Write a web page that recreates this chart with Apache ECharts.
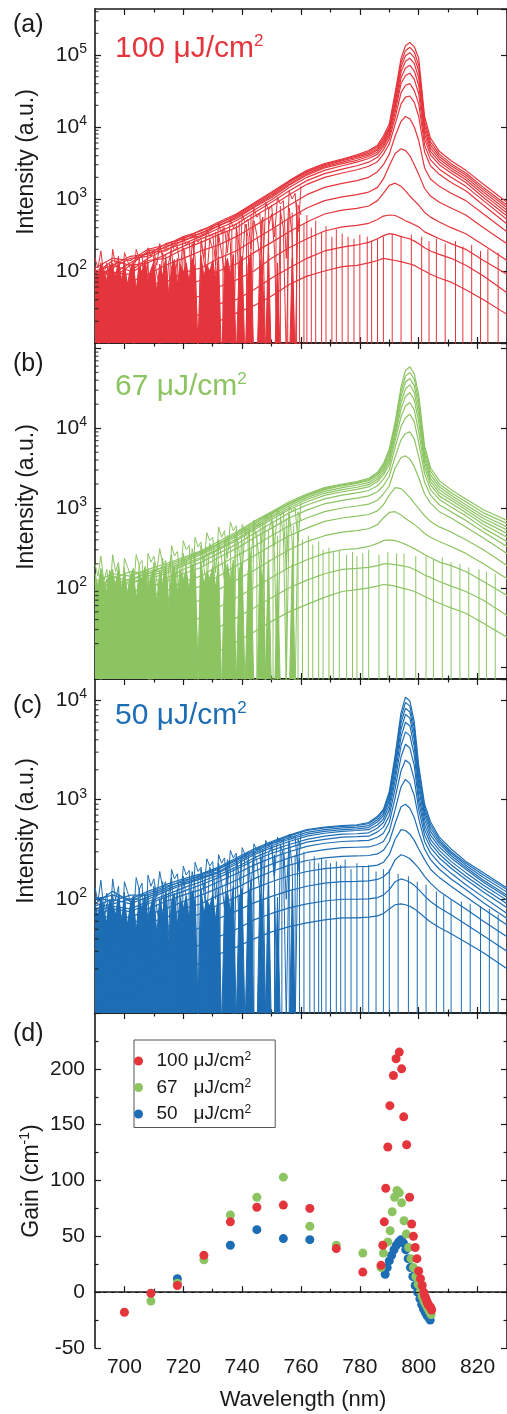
<!DOCTYPE html>
<html>
<head>
<meta charset="utf-8">
<title>ASE spectra and gain</title>
<script src="https://cdn.jsdelivr.net/npm/echarts@6/dist/echarts.min.js"></script>
<style>
html, body { margin: 0; padding: 0; background: #fff; overflow: hidden; }
#main { width: 507px; height: 1414px; }
</style>
</head>
<body>
<div id="main"></div>
<script>
// wavelength grid of the smooth spectra (nm)
const WL = [690, 696, 702, 708, 714, 720, 726, 732, 738, 744, 750, 756, 762, 768, 774, 779, 783, 786, 788, 790, 792, 794, 795.5, 797, 798.5, 800, 802, 804, 807, 811, 816, 822, 830];
// wavelength grid of the noisy short-wavelength part
const NOISE_WL = [690, 691, 692, 693, 694, 695, 696, 697, 698, 699,
  700, 701, 702, 703, 704, 705, 706, 707, 708, 709,
  710, 711, 712, 713, 714, 715, 716, 717, 718, 719,
  720, 721, 722, 723, 724, 725, 726, 727, 728, 729,
  730, 731, 732, 733, 734, 735, 736, 737, 738, 739,
  740, 741, 742, 743, 744, 745, 746, 747, 748, 749,
  750, 751, 752, 753, 754, 755, 756, 757, 758, 759, 760];
// counts below this level are the detector floor (off the bottom of the log axes)
const FLOOR = 1;

// (a) 100 uJ/cm2 spectra, one row per excitation step
const SPEC_100 = [
  [110, 150, 140, 200, 230, 300, 360, 480, 620, 880, 1250, 1800, 2500, 3100, 3600, 4100, 4700, 5600, 7500, 11000, 30000, 90000, 135000, 150000, 130000, 90000, 14000, 7000, 4600, 3400, 2500, 1600, 900],
  [100, 120, 160, 170, 240, 280, 370, 450, 600, 850, 1200, 1750, 2400, 3000, 3500, 3950, 4500, 5300, 7000, 10000, 26000, 78000, 115000, 128000, 110000, 72000, 12000, 6200, 4200, 3100, 2300, 1450, 820],
  [90, 140, 120, 190, 210, 290, 330, 460, 580, 820, 1150, 1700, 2350, 2900, 3400, 3800, 4300, 5000, 6500, 9500, 23000, 68000, 98000, 108000, 92000, 60000, 10500, 5600, 3900, 2900, 2150, 1350, 760],
  [80, 110, 150, 160, 220, 260, 340, 420, 560, 780, 1100, 1600, 2250, 2800, 3250, 3650, 4100, 4800, 6100, 9000, 21000, 58000, 82000, 90000, 76000, 48000, 9200, 5100, 3600, 2700, 2000, 1250, 700],
  [95, 90, 130, 180, 190, 270, 310, 430, 530, 760, 1050, 1550, 2150, 2700, 3100, 3450, 3900, 4500, 5700, 8300, 18500, 48000, 66000, 72000, 60000, 38000, 8000, 4600, 3300, 2500, 1850, 1150, 640],
  [70, 120, 100, 150, 200, 240, 300, 390, 500, 700, 980, 1450, 2000, 2500, 2900, 3250, 3650, 4200, 5300, 7600, 16000, 40000, 52000, 56000, 46000, 29000, 6800, 4100, 3000, 2300, 1700, 1050, 580],
  [60, 80, 120, 130, 170, 220, 280, 350, 450, 640, 900, 1300, 1800, 2250, 2600, 2900, 3250, 3800, 4800, 6800, 13500, 30000, 38000, 40000, 32000, 21000, 5600, 3500, 2600, 2000, 1500, 950, 520],
  [55, 95, 90, 140, 150, 200, 250, 320, 400, 570, 800, 1150, 1600, 2000, 2300, 2550, 2850, 3300, 4200, 5800, 11000, 21000, 26000, 27000, 22000, 14000, 4500, 2900, 2200, 1700, 1300, 820, 450],
  [40, 60, 70, 90, 120, 150, 190, 230, 300, 420, 580, 820, 1150, 1450, 1650, 1800, 2000, 2400, 3000, 4200, 7500, 12000, 14000, 13000, 10000, 6500, 2700, 1900, 1500, 1200, 950, 620, 350],
  [25, 45, 40, 65, 70, 95, 110, 150, 190, 270, 380, 540, 750, 950, 1070, 1150, 1250, 1450, 1900, 2900, 4300, 5000, 4700, 4000, 3000, 2200, 1400, 1100, 900, 750, 600, 400, 240],
  [15, 30, 25, 40, 50, 60, 75, 100, 125, 180, 250, 350, 480, 620, 700, 740, 800, 950, 1200, 1550, 1660, 1500, 1300, 1100, 950, 820, 650, 560, 480, 400, 330, 230, 140],
  [8, 20, 15, 25, 30, 40, 45, 60, 75, 100, 150, 210, 280, 360, 410, 430, 460, 520, 580, 600, 590, 540, 500, 470, 440, 410, 350, 320, 280, 240, 200, 140, 90],
  [5, 12, 9, 14, 18, 22, 25, 35, 40, 55, 80, 110, 150, 190, 215, 230, 250, 280, 310, 330, 320, 300, 290, 280, 260, 240, 210, 190, 170, 150, 120, 85, 50],
  [3, 6, 4, 8, 11, 14, 16, 20, 26, 33, 45, 65, 85, 100, 115, 120, 130, 140, 150, 145, 140, 135, 130, 125, 120, 110, 100, 90, 80, 70, 55, 40, 25]
];
const NOISE_100_HI = [150, 110, 190, 90, 130, 60, 200, 120, 160, 40,
  180, 140, 110, 70, 200, 150, 170, 30, 210, 160,
  190, 120, 240, 150, 170, 45, 260, 190, 220, 100,
  300, 230, 260, 60, 330, 250, 290, 150, 380, 300,
  330, 120, 450, 330, 400, 180, 520, 400, 460, 60,
  600, 480, 520, 200, 750, 560, 640, 90, 900, 700,
  820, 300, 1050, 850, 950, 150, 1300, 1000, 1200, 350, 1500];
const NOISE_100_MID = [90, 40, 120, 70, 100, 30, 130, 60, 110, 25,
  140, 50, 95, 120, 35, 150, 80, 60, 130, 20,
  160, 90, 60, 180, 30, 130, 200, 70, 150, 8,
  210, 120, 60, 240, 160, 8, 260, 140, 80, 280,
  200, 5, 320, 180, 90, 360, 250, 6, 400, 220,
  120, 450, 300, 5, 500, 320, 150, 560, 6, 420,
  620, 200, 5, 680, 400, 6, 750, 300, 5, 820, 600];
const NOISE_100_FLOOR = [110, 80, 130, 95, 70, 125, 105, 85, 140, 75,
  120, 65, 105, 130, 55, 115, 95, 140, 75, 105,
  135, 50, 125, 85, 150, 40, 115, 145, 65, 125,
  95, 130, 70, 150, 110, 6, 165, 85, 120, 100,
  140, 75, 160, 5, 110, 150, 90, 170, 6, 130,
  160, 5, 120, 180, 5, 4, 150, 90, 5, 170,
  4, 4, 130, 5, 4, 4, 4, 150, 4, 4, 4];
const DROPS_100_WL = [720.5, 723.5, 727.5, 731, 733.5, 736.5, 739, 741.5, 743, 746.5,
  749, 751.5, 753, 755.5, 757, 758.5, 759.5, 761, 762, 763.5,
  765, 767, 768.5, 770.5, 772, 774, 776, 778, 780, 782.5,
  784, 786, 788, 791, 794, 797.5, 801, 803.5, 806, 809,
  812.5, 815, 818, 821, 823.5, 827];
const DROPS_100_TOP = [200, 260, 300, 350, 420, 380, 500, 450, 600, 520,
  700, 400, 800, 500, 650, 900, 550, 450, 600, 400,
  500, 350, 420, 300, 380, 330, 300, 280, 320, 300,
  260, 280, 300, 330, 310, 320, 300, 260, 280, 240,
  260, 220, 230, 190, 200, 180];

// (b) 67 uJ/cm2
const SPEC_67 = [
  [120, 150, 140, 170, 200, 240, 290, 380, 500, 680, 900, 1200, 1500, 1800, 2000, 2150, 2350, 2800, 3600, 5500, 12000, 33000, 53000, 59000, 48000, 26000, 6000, 3200, 2200, 1700, 1300, 950, 700],
  [100, 130, 160, 150, 190, 230, 280, 360, 480, 650, 870, 1150, 1450, 1750, 1950, 2100, 2280, 2700, 3400, 5100, 11000, 29000, 45000, 50000, 41000, 22000, 5300, 2900, 2000, 1550, 1200, 870, 640],
  [90, 140, 120, 160, 180, 220, 270, 350, 460, 620, 840, 1120, 1420, 1700, 1900, 2040, 2200, 2600, 3200, 4700, 10000, 25000, 38000, 42000, 34000, 18500, 4700, 2600, 1850, 1450, 1100, 800, 580],
  [110, 110, 130, 150, 170, 210, 260, 330, 440, 590, 800, 1070, 1350, 1620, 1800, 1930, 2080, 2450, 3000, 4300, 9000, 21000, 31000, 35000, 28000, 15000, 4200, 2350, 1700, 1350, 1020, 740, 530],
  [80, 120, 110, 140, 160, 200, 240, 310, 410, 560, 760, 1010, 1280, 1530, 1700, 1820, 1960, 2300, 2800, 3900, 8000, 17500, 25000, 28000, 22500, 12000, 3700, 2150, 1550, 1250, 950, 680, 480],
  [70, 100, 120, 130, 150, 190, 230, 300, 390, 530, 720, 960, 1200, 1440, 1600, 1710, 1840, 2150, 2600, 3500, 7000, 14000, 19000, 21000, 17000, 9000, 3200, 1950, 1420, 1150, 880, 620, 430],
  [60, 90, 80, 120, 130, 170, 210, 270, 350, 480, 650, 870, 1090, 1300, 1450, 1550, 1660, 1900, 2300, 3000, 5800, 10500, 13500, 15000, 12000, 6600, 2700, 1700, 1280, 1030, 800, 560, 380],
  [50, 70, 90, 100, 120, 150, 180, 240, 310, 420, 560, 750, 940, 1130, 1250, 1330, 1420, 1600, 1900, 2500, 4400, 7200, 8600, 9000, 7300, 4400, 2100, 1450, 1100, 900, 700, 500, 330],
  [40, 55, 50, 80, 90, 120, 140, 190, 250, 330, 450, 600, 750, 900, 1000, 1060, 1120, 1250, 1500, 1900, 3200, 4300, 4500, 4100, 3300, 2400, 1500, 1150, 900, 750, 580, 420, 270],
  [30, 40, 45, 60, 70, 90, 105, 140, 190, 250, 340, 450, 560, 680, 750, 790, 830, 920, 1100, 1450, 1800, 1750, 1550, 1350, 1150, 980, 800, 680, 580, 500, 400, 300, 190],
  [20, 30, 25, 40, 45, 60, 70, 95, 125, 165, 225, 300, 380, 450, 500, 520, 550, 620, 750, 880, 900, 820, 740, 680, 620, 560, 480, 430, 380, 330, 270, 200, 130],
  [10, 20, 15, 25, 28, 36, 42, 57, 75, 100, 135, 180, 225, 270, 300, 310, 330, 360, 390, 400, 390, 370, 350, 330, 310, 290, 260, 240, 210, 190, 160, 120, 80],
  [6, 10, 8, 14, 16, 20, 24, 32, 42, 56, 75, 100, 125, 150, 170, 175, 180, 190, 200, 200, 195, 190, 185, 180, 170, 160, 145, 135, 120, 105, 90, 70, 45],
  [3, 5, 4, 7, 8, 10, 12, 16, 21, 28, 38, 50, 62, 76, 90, 95, 100, 105, 110, 108, 105, 100, 97, 94, 90, 85, 78, 72, 64, 56, 48, 36, 24]
];
const NOISE_67_HI = [200, 140, 250, 120, 170, 80, 260, 160, 210, 55,
  235, 185, 145, 90, 260, 195, 220, 40, 270, 210,
  250, 160, 310, 195, 220, 60, 340, 250, 285, 130,
  390, 300, 340, 80, 430, 325, 375, 195, 490, 390,
  430, 155, 580, 430, 520, 235, 670, 520, 600, 80,
  620, 500, 560, 210, 700, 580, 650, 100, 820, 700,
  850, 330, 950, 800, 900, 170, 1050, 900, 1000, 380, 1150];
const NOISE_67_MID = [120, 50, 160, 90, 130, 40, 170, 80, 140, 30,
  180, 65, 125, 160, 45, 195, 105, 80, 170, 25,
  210, 120, 80, 235, 40, 170, 260, 90, 195, 9,
  270, 155, 80, 310, 210, 9, 340, 180, 105, 360,
  260, 5, 400, 235, 120, 450, 320, 6, 500, 285,
  155, 560, 390, 5, 600, 400, 195, 650, 6, 520,
  700, 260, 5, 780, 500, 6, 850, 390, 5, 900, 700];
const NOISE_67_FLOOR = [150, 105, 175, 120, 90, 165, 140, 110, 185, 95,
  160, 85, 140, 175, 70, 150, 125, 185, 95, 140,
  180, 65, 165, 110, 200, 50, 150, 190, 85, 165,
  125, 170, 90, 200, 145, 6, 215, 110, 160, 130,
  185, 100, 210, 5, 145, 200, 120, 225, 6, 170,
  210, 5, 160, 240, 5, 4, 200, 120, 5, 225,
  4, 4, 170, 5, 4, 4, 4, 200, 4, 4, 4];
const DROPS_67_WL = [721, 724, 728, 730.5, 734, 737.5, 740, 742.5, 745, 747.5,
  750.5, 752, 755, 757.5, 759, 760.5, 762.5, 764, 766, 767.5,
  769.5, 771, 773, 775.5, 777.5, 779, 781, 783, 786.5, 789.5,
  792.5, 795, 799, 802.5, 805, 808, 811, 814, 817, 820.5,
  823, 826];
const DROPS_67_TOP = [230, 280, 320, 300, 400, 450, 380, 550, 500, 600,
  650, 450, 750, 600, 500, 400, 450, 350, 380, 300,
  320, 280, 300, 260, 280, 250, 270, 300, 260, 280,
  270, 270, 250, 250, 230, 240, 210, 200, 180, 170,
  160, 150];

// (c) 50 uJ/cm2
const SPEC_50 = [
  [100, 110, 100, 120, 140, 160, 180, 210, 260, 320, 380, 440, 500, 530, 550, 560, 590, 680, 800, 1200, 2800, 7500, 10700, 9800, 6000, 2200, 900, 600, 420, 320, 240, 185, 130],
  [90, 120, 95, 115, 135, 150, 175, 205, 250, 310, 370, 430, 490, 520, 540, 550, 575, 660, 770, 1120, 2550, 6700, 9500, 8700, 5300, 1950, 830, 560, 400, 300, 230, 175, 125],
  [105, 95, 110, 110, 130, 155, 170, 200, 245, 300, 360, 415, 470, 500, 520, 530, 550, 630, 730, 1050, 2300, 5900, 8300, 7600, 4600, 1700, 760, 520, 380, 290, 220, 165, 118],
  [85, 100, 90, 105, 125, 145, 165, 190, 235, 290, 345, 400, 450, 480, 500, 510, 525, 600, 690, 970, 2050, 5100, 7200, 6600, 4000, 1500, 700, 480, 360, 275, 210, 155, 110],
  [80, 90, 100, 100, 120, 140, 160, 185, 225, 280, 330, 380, 430, 460, 480, 490, 500, 560, 640, 880, 1800, 4300, 6000, 5500, 3400, 1300, 630, 440, 335, 260, 200, 148, 105],
  [75, 85, 80, 95, 110, 130, 150, 175, 210, 260, 310, 355, 400, 430, 450, 455, 465, 520, 590, 790, 1550, 3500, 4800, 4400, 2800, 1100, 560, 400, 310, 240, 185, 138, 98],
  [70, 80, 75, 90, 105, 120, 140, 165, 200, 245, 290, 330, 375, 400, 420, 425, 430, 475, 530, 690, 1300, 2700, 3600, 3300, 2200, 950, 500, 365, 285, 222, 170, 128, 90],
  [60, 70, 65, 80, 95, 110, 125, 150, 180, 220, 260, 300, 340, 365, 380, 385, 390, 420, 460, 590, 1050, 1950, 2500, 2300, 1600, 800, 440, 330, 260, 205, 158, 118, 82],
  [50, 60, 55, 70, 80, 95, 110, 130, 155, 190, 225, 260, 295, 315, 330, 333, 335, 355, 380, 480, 800, 1350, 1600, 1450, 1100, 650, 380, 290, 230, 182, 140, 105, 72],
  [40, 50, 45, 58, 65, 80, 90, 110, 130, 160, 190, 220, 245, 260, 270, 272, 275, 285, 310, 380, 580, 850, 900, 820, 660, 470, 320, 250, 200, 160, 125, 92, 64],
  [30, 40, 35, 45, 52, 62, 72, 88, 105, 128, 150, 172, 190, 203, 210, 212, 214, 220, 235, 280, 400, 500, 490, 450, 390, 320, 250, 200, 165, 135, 106, 80, 55],
  [20, 28, 24, 32, 37, 45, 52, 64, 76, 92, 107, 122, 135, 145, 150, 151, 153, 158, 168, 190, 250, 280, 270, 255, 230, 205, 170, 145, 120, 100, 80, 60, 42],
  [14, 18, 15, 22, 25, 30, 35, 42, 50, 62, 72, 82, 90, 96, 100, 100, 101, 104, 110, 125, 150, 160, 155, 148, 138, 125, 108, 95, 82, 70, 56, 43, 30],
  [8, 12, 10, 14, 16, 20, 23, 28, 33, 40, 47, 53, 58, 62, 65, 65, 66, 68, 72, 80, 88, 90, 88, 85, 80, 74, 66, 59, 52, 45, 37, 29, 20]
];
const NOISE_50_HI = [130, 95, 155, 80, 115, 55, 160, 100, 135, 40,
  150, 120, 95, 62, 165, 125, 145, 30, 175, 135,
  160, 105, 190, 130, 150, 42, 200, 160, 180, 90,
  215, 175, 195, 55, 235, 190, 210, 120, 255, 215,
  240, 100, 280, 230, 260, 130, 310, 260, 290, 50,
  330, 280, 300, 120, 360, 310, 340, 70, 390, 340,
  380, 170, 420, 370, 400, 100, 450, 400, 430, 190, 470];
const NOISE_50_MID = [80, 35, 105, 60, 90, 28, 112, 55, 95, 22,
  118, 45, 85, 105, 32, 128, 70, 55, 112, 18,
  135, 80, 55, 150, 28, 112, 165, 62, 128, 8,
  170, 105, 55, 190, 135, 8, 200, 118, 70, 210,
  160, 5, 230, 150, 80, 250, 200, 6, 270, 170,
  100, 290, 230, 5, 300, 240, 120, 320, 6, 290,
  340, 150, 5, 360, 280, 6, 380, 220, 5, 400, 330];
const NOISE_50_FLOOR = [90, 65, 105, 78, 58, 100, 85, 70, 112, 62,
  98, 55, 86, 108, 48, 95, 78, 112, 62, 86,
  110, 45, 102, 70, 120, 35, 95, 115, 55, 102,
  80, 108, 60, 122, 92, 6, 130, 72, 98, 85,
  112, 62, 128, 5, 90, 122, 75, 135, 6, 105,
  128, 5, 98, 145, 5, 4, 122, 75, 5, 138,
  4, 4, 105, 5, 4, 4, 4, 125, 4, 4, 4];
const DROPS_50_WL = [722, 725, 727.5, 730, 732.5, 735, 737, 739.5, 742, 744,
  746.5, 749, 751, 753.5, 756, 758, 759.5, 761, 763, 764.5,
  766, 767, 768.5, 770, 772, 773.5, 775, 777, 779, 781,
  783, 785.5, 788, 790, 793, 796.5, 799.5, 802.5, 806, 808.5,
  811, 814.5, 817.5, 821, 824, 827];
const DROPS_50_TOP = [150, 180, 170, 200, 190, 230, 210, 250, 240, 270,
  260, 290, 280, 300, 310, 280, 260, 300, 240, 270,
  230, 260, 250, 230, 240, 220, 250, 200, 230, 210,
  220, 190, 200, 200, 180, 170, 150, 140, 120, 110,
  100, 95, 90, 85, 80, 70];

// (d) gain spectra (cm^-1)
const G100_WL = [700, 709, 718, 727, 736, 745, 754, 763, 772, 781, 787.2, 787.8, 788.3, 788.8, 789.5, 790.2, 791.4, 792.3, 793.4, 794.2,
  794.9, 795.9, 796.9, 797.6, 798.2, 798.8, 799.4, 800.0, 800.6, 801.2, 801.7, 802.0, 802.3, 802.6, 802.9, 803.2, 803.5, 803.8, 804.1, 804.4];
const G100 = [-18, -1, 6, 33, 63, 76, 78, 75, 39, 18, 24, 42, 63, 93, 130, 167, 194, 209, 215, 200,
  157, 132, 85, 61, 50, 40, 30, 19, 12, 6, 0, -3, -5, -7, -9, -11, -12, -13, -14, -16];
const G67_WL = [709, 718, 727, 736, 745, 754, 763, 772, 781, 787.2, 788.0, 789.5, 790.3, 791.0, 791.8, 792.6, 793.4, 794.2, 795.0, 795.8,
  796.6, 797.4, 798.2, 799.0, 799.8, 800.6, 801.2, 801.8, 802.4, 803.0, 803.6, 804.2];
const G67 = [-8, 8, 29, 69, 85, 103, 59, 42, 35, 22, 35, 45, 55, 72, 85, 91, 89, 80, 64, 52,
  40, 30, 22, 14, 7, 1, -4, -8, -11, -14, -17, -20];
const G50_WL = [718, 736, 745, 754, 763, 788.6, 789.3, 790.0, 790.8, 791.6, 792.4, 793.2, 794.0, 794.8, 795.6,
  796.4, 797.2, 798.0, 798.8, 799.6, 800.4, 801.0, 801.6, 802.2, 802.8, 803.4, 803.9];
const G50 = [12, 42, 56, 48, 47, 16, 22, 28, 33, 38, 42, 45, 47, 44, 38,
  30, 22, 14, 6, 0, -6, -11, -15, -18, -21, -23, -25];

// ticks
const X_MAJOR = [700, 720, 740, 760, 780, 800, 820];
const X_MINOR = [710, 730, 750, 770, 790, 810, 830];
const LOG_MINOR = [20, 30, 40, 50, 60, 70, 80, 90, 200, 300, 400, 500, 600, 700, 800, 900,
  2000, 3000, 4000, 5000, 6000, 7000, 8000, 9000, 20000, 30000, 40000, 50000, 60000, 70000, 80000, 90000,
  200000, 300000, 400000];

const RED = '#e5353c';
const GREEN = '#8cc462';
const BLUE = '#1d6db4';
const INK = '#1a1a1a';
const FONT = '"Liberation Sans", Arial, Helvetica, sans-serif';

const GRID_TOP = [9, 343, 679, 1013];
const GRID_H = [334, 336, 334, 335];

const panels = [
  { curves: SPEC_100, hi: NOISE_100_HI, mid: NOISE_100_MID, floor: NOISE_100_FLOOR, dropWl: DROPS_100_WL, dropTop: DROPS_100_TOP, color: RED, min: 10, max: 436000, powers: [2, 3, 4, 5] },
  { curves: SPEC_67, hi: NOISE_67_HI, mid: NOISE_67_MID, floor: NOISE_67_FLOOR, dropWl: DROPS_67_WL, dropTop: DROPS_67_TOP, color: GREEN, min: 7.2, max: 117000, powers: [2, 3, 4] },
  { curves: SPEC_50, hi: NOISE_50_HI, mid: NOISE_50_MID, floor: NOISE_50_FLOOR, dropWl: DROPS_50_WL, dropTop: DROPS_50_TOP, color: BLUE, min: 7.2, max: 16300, powers: [2, 3, 4] }
];

function pairs(xs, ys) {
  return xs.map(function (x, i) { return [x, ys[i]]; });
}
// vertical dropouts: each one falls from its level to the floor, '-' breaks the line
function drops(xs, tops) {
  const out = [];
  xs.forEach(function (x, i) { out.push([x, tops[i]], [x, FLOOR], [x, '-']); });
  return out;
}

const FRAME = { show: true, lineStyle: { color: INK, width: 1.6 } };
const TICK = { color: INK, width: 1.2 };

function powerLabel(shown) {
  return function (v) {
    const l = Math.log10(v);
    const e = Math.round(l);
    if (Math.abs(l - e) > 1e-6 || shown.indexOf(e) < 0) return '';
    return '{b|10}{e|' + e + '}';
  };
}
const POWER_RICH = {
  b: { fontSize: 21, lineHeight: 26, fontFamily: FONT, color: INK },
  e: { fontSize: 14, lineHeight: 14, verticalAlign: 'top', fontFamily: FONT, color: INK }
};

// four x axes per grid: bottom/top, major/minor ticks
const xAxis = [];
GRID_TOP.forEach(function (t, i) {
  const base = { type: 'value', gridIndex: i, min: 690, max: 830, splitLine: { show: false } };
  xAxis.push(Object.assign({}, base, {
    position: 'bottom', axisLine: FRAME,
    axisTick: { inside: true, length: 6, customValues: X_MAJOR, lineStyle: TICK },
    axisLabel: { show: i === 3, customValues: X_MAJOR, fontSize: 21, color: INK, fontFamily: FONT, margin: 9 }
  }));
  xAxis.push(Object.assign({}, base, {
    position: 'bottom', axisLine: { show: false },
    axisTick: { inside: true, length: 3.5, customValues: X_MINOR, lineStyle: TICK },
    axisLabel: { show: false }
  }));
  xAxis.push(Object.assign({}, base, {
    position: 'top', axisLine: FRAME,
    axisTick: { inside: true, length: 6, customValues: X_MAJOR, lineStyle: TICK },
    axisLabel: { show: false }
  }));
  xAxis.push(Object.assign({}, base, {
    position: 'top', axisLine: { show: false },
    axisTick: { inside: true, length: 3.5, customValues: X_MINOR, lineStyle: TICK },
    axisLabel: { show: false }
  }));
});

// two y axes per grid: left with labels, right frame
const yAxis = [];
panels.forEach(function (p, i) {
  const base = { type: 'log', logBase: 10, gridIndex: i, min: p.min, max: p.max, splitLine: { show: false }, axisLine: FRAME };
  yAxis.push(Object.assign({}, base, {
    position: 'left',
    axisTick: { inside: true, length: 6, lineStyle: TICK },
    axisLabel: { margin: 8, showMinLabel: false, showMaxLabel: false, formatter: powerLabel(p.powers), rich: POWER_RICH }
  }));
  yAxis.push(Object.assign({}, base, {
    position: 'right',
    axisTick: { inside: true, length: 6, lineStyle: TICK },
    axisLabel: { show: false }
  }));
});
const gainBase = {
  type: 'value', gridIndex: 3, min: -50, max: 250, interval: 50, splitLine: { show: false }, axisLine: FRAME,
  axisTick: { inside: true, length: 6, lineStyle: TICK },
  minorTick: { show: true, splitNumber: 2, length: 3.5, lineStyle: TICK },
  minorSplitLine: { show: false }
};
yAxis.push(Object.assign({}, gainBase, {
  position: 'left',
  axisLabel: { fontSize: 21, color: INK, fontFamily: FONT, margin: 10, showMaxLabel: false }
}));
yAxis.push(Object.assign({}, gainBase, { position: 'right', axisLabel: { show: false } }));

const series = [];
panels.forEach(function (p, i) {
  const line = function (data, w, extra) {
    return Object.assign({
      type: 'line', xAxisIndex: 4 * i, yAxisIndex: 2 * i, data: data,
      symbol: 'none', silent: true, clip: true, connectNulls: false,
      lineStyle: { width: w, color: p.color }, itemStyle: { color: p.color }
    }, extra || {});
  };
  p.curves.forEach(function (ys) { series.push(line(pairs(WL, ys), 1.2)); });
  // dense noise at short wavelengths, the lowest trace filled down to the floor
  series.push(line(pairs(NOISE_WL, p.floor), 1, { areaStyle: { color: p.color, opacity: 1, origin: 'start' } }));
  series.push(line(pairs(NOISE_WL, p.mid), 1));
  series.push(line(pairs(NOISE_WL, p.hi), 1));
  series.push(line(drops(p.dropWl, p.dropTop), 1));
  // minor log ticks on the left frame
  series.push({
    type: 'scatter', xAxisIndex: 4 * i, yAxisIndex: 2 * i, silent: true, clip: false, z: 5,
    data: LOG_MINOR.filter(function (v) { return v > p.min && v < p.max; }).map(function (v) { return [690, v]; }),
    symbol: 'rect', symbolSize: [3.5, 1.2], symbolOffset: [1.75, 0], itemStyle: { color: INK }
  });
});

const gainSeries = [
  { name: '50', wl: G50_WL, g: G50, color: BLUE },
  { name: '67', wl: G67_WL, g: G67, color: GREEN },
  { name: '100', wl: G100_WL, g: G100, color: RED }
];
gainSeries.forEach(function (s, k) {
  const item = {
    type: 'scatter', name: s.name, xAxisIndex: 12, yAxisIndex: 6,
    data: pairs(s.wl, s.g), symbol: 'circle', symbolSize: 9,
    itemStyle: { color: s.color, opacity: 1 }, z: 3 + k
  };
  if (k === 0) {
    item.markLine = {
      silent: true, symbol: 'none', label: { show: false },
      lineStyle: { type: [4, 4], color: INK, width: 1 },
      data: [{ yAxis: 0 }]
    };
  }
  series.push(item);
});

const LEGEND_TEXT = {
  '100': '{t|100 μJ/cm}{s|2}',
  '67': '{t|67   μJ/cm}{s|2}',
  '50': '{t|50   μJ/cm}{s|2}'
};

function titleText(x, y, text, size, rotate) {
  return {
    type: 'text', x: x, y: y, silent: true, rotation: rotate ? Math.PI / 2 : 0,
    style: { text: text, fontSize: size, fontFamily: FONT, fill: INK, align: 'center', verticalAlign: 'middle' }
  };
}
function tagText(y, text) {
  return {
    type: 'text', x: 13, y: y, silent: true,
    style: { text: text, fontSize: 25, fontFamily: FONT, fill: INK, align: 'left', verticalAlign: 'middle' }
  };
}
function fluenceText(y, value, color) {
  return {
    type: 'text', x: 115, y: y, silent: true,
    style: {
      text: '{m|' + value + ' μJ/cm}{s|2}', align: 'left', verticalAlign: 'middle', fill: color,
      rich: {
        m: { fontSize: 30, lineHeight: 32, fontFamily: FONT, fill: color },
        s: { fontSize: 17, lineHeight: 27, verticalAlign: 'top', fontFamily: FONT, fill: color }
      }
    }
  };
}

const graphic = [
  tagText(25, '(a)'), tagText(364, '(b)'), tagText(706, '(c)'), tagText(1034, '(d)'),
  fluenceText(49, '100', RED), fluenceText(387, '67', GREEN), fluenceText(716, '50', BLUE),
  titleText(27, 162, 'Intensity (a.u.)', 23, true),
  titleText(27, 497, 'Intensity (a.u.)', 23, true),
  titleText(27, 831, 'Intensity (a.u.)', 23, true),
  {
    type: 'text', x: 32, y: 1181, rotation: Math.PI / 2, silent: true,
    style: {
      text: '{m|Gain (cm}{s|-1}{m|)}', align: 'center', verticalAlign: 'middle', fill: INK,
      rich: {
        m: { fontSize: 23, lineHeight: 28, fontFamily: FONT, fill: INK },
        s: { fontSize: 14, lineHeight: 14, verticalAlign: 'top', fontFamily: FONT, fill: INK }
      }
    }
  },
  titleText(303, 1400, 'Wavelength (nm)', 22, false)
];

const chart = echarts.init(document.getElementById('main'), null, { renderer: 'canvas' });
chart.setOption({
  animation: false,
  backgroundColor: '#fff',
  grid: GRID_TOP.map(function (t, i) { return { left: 95, width: 416, top: t, height: GRID_H[i] }; }),
  xAxis: xAxis,
  yAxis: yAxis,
  legend: {
    data: ['100', '67', '50'],
    orient: 'vertical', left: 134, top: 1040,
    borderColor: '#555', borderWidth: 1, padding: [11, 24, 4, 0],
    itemWidth: 26, itemHeight: 9, itemGap: 7, icon: 'circle',
    formatter: function (name) { return LEGEND_TEXT[name]; },
    textStyle: {
      color: INK,
      rich: {
        t: { fontSize: 19, lineHeight: 20, fontFamily: FONT, color: INK },
        s: { fontSize: 12, lineHeight: 12, verticalAlign: 'top', fontFamily: FONT, color: INK }
      }
    }
  },
  graphic: graphic,
  series: series
});
</script>
</body>
</html>
